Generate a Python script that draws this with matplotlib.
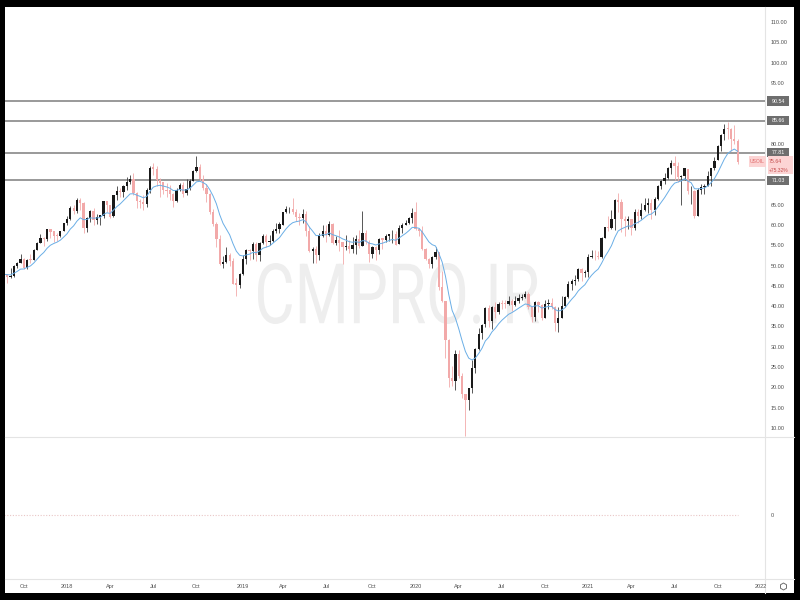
import numpy as np
import pandas as pd
import matplotlib
matplotlib.use("Agg")
import matplotlib.pyplot as plt
import matplotlib.dates as mdates
from matplotlib.textpath import TextPath
from matplotlib.patches import PathPatch, Rectangle
from matplotlib.font_manager import FontProperties
from matplotlib.transforms import Affine2D, blended_transform_factory
from matplotlib.ticker import FormatStrFormatter

plt.rcParams["font.family"] = ["Liberation Sans", "DejaVu Sans"]

# weekly USOIL candles, first week starts 2017-08-21
first_week = "2017-08-21"

open_ = [
    # 2017
    47.5, 47.9, 47.3, 47.5, 49.9, 50.7, 51.7, 49.3, 51.5, 51.5, 53.9, 55.6, 56.7, 56.6, 58.9, 58.4, 57.4, 57.3, 58.5,
    # 2018
    60.4, 61.4, 64.3, 63.4, 66.1, 65.4, 59.2, 61.7, 63.5, 61.3, 62.0, 62.3, 65.9, 64.9, 62.1, 67.4, 68.4, 68.1,
    69.7, 70.7, 71.3, 67.9, 65.8, 65.7, 65.1, 68.6, 74.2, 73.8, 71.0, 70.5, 68.7, 68.5, 67.6, 65.9, 68.7, 69.8,
    67.8, 69.0, 70.8, 73.3, 74.3, 71.3, 69.1, 67.6, 63.1, 60.2, 56.5, 50.4, 50.9, 52.6, 51.2, 45.6, 45.3,
    # 2019
    48.0, 51.6, 53.8, 53.7, 55.3, 52.7, 55.6, 57.3, 55.8, 56.1, 58.5, 59.0, 60.1, 63.1, 63.9, 64.0, 63.3, 61.9,
    61.7, 62.8, 58.6, 53.5, 54.0, 52.5, 57.4, 58.5, 57.5, 60.2, 55.6, 56.2, 55.7, 54.5, 54.9, 54.2, 55.1, 56.5,
    54.9, 58.1, 55.9, 52.8, 54.7, 53.8, 56.7, 56.2, 57.2, 57.7, 57.8, 55.2, 59.2, 60.1, 60.4, 61.7,
    # 2020
    63.1, 59.0, 58.5, 54.2, 51.6, 50.3, 52.1, 53.4, 44.8, 41.3, 31.7, 22.4, 21.5, 28.3, 22.8, 18.3, 16.9, 19.8,
    24.7, 29.4, 33.3, 35.5, 39.6, 36.3, 39.8, 38.5, 40.7, 40.6, 40.6, 41.3, 40.3, 41.2, 42.0, 42.3, 43.0, 39.8,
    37.3, 41.1, 40.3, 37.1, 40.6, 40.9, 39.9, 35.8, 37.1, 40.1, 42.2, 45.5, 46.3, 46.6, 49.1, 48.2,
    # 2021
    48.5, 52.2, 52.4, 52.3, 52.2, 56.9, 59.5, 59.2, 61.5, 66.1, 65.6, 61.4, 61.0, 61.5, 59.3, 63.1, 62.1, 63.6,
    64.9, 65.4, 63.6, 66.3, 69.6, 70.9, 71.6, 74.1, 75.2, 74.6, 71.8, 72.1, 73.9, 68.3, 68.4, 62.3, 68.7, 69.3,
    69.7, 72.0, 74.0, 75.9, 79.4, 82.3, 83.8, 83.6, 81.3, 80.8,
]

high = [
    # 2017
    48.6, 48.0, 49.4, 50.2, 51.0, 52.9, 51.8, 51.6, 52.8, 54.2, 55.7, 57.9, 57.0, 59.0, 59.1, 58.5, 58.0, 58.5, 60.5,
    # 2018
    62.2, 64.8, 64.9, 66.7, 66.6, 65.6, 62.0, 63.7, 64.2, 62.7, 62.5, 66.0, 66.0, 64.9, 67.5, 69.6, 69.0, 69.8,
    71.9, 72.3, 72.9, 68.1, 66.4, 67.3, 69.2, 74.5, 75.3, 74.6, 71.5, 70.5, 70.4, 69.9, 67.9, 69.0, 70.4, 70.5,
    71.4, 71.3, 73.5, 76.9, 75.0, 72.4, 70.0, 68.0, 63.9, 60.7, 57.5, 52.3, 54.6, 53.1, 51.9, 47.0, 48.3,
    # 2019
    52.7, 54.0, 54.0, 55.8, 55.8, 55.8, 57.8, 57.9, 57.5, 58.9, 60.4, 60.7, 63.3, 64.8, 64.5, 66.6, 64.0, 63.0,
    64.0, 63.5, 59.7, 54.6, 54.8, 58.0, 60.0, 60.0, 60.9, 60.5, 57.4, 58.8, 55.9, 57.5, 56.4, 57.0, 57.6, 58.8,
    63.4, 58.8, 56.2, 54.9, 54.9, 56.9, 56.9, 57.9, 57.9, 58.8, 58.4, 59.9, 60.5, 61.2, 61.9, 64.1,
    # 2020
    65.7, 59.2, 59.7, 54.4, 51.9, 52.3, 54.5, 53.4, 48.7, 41.3, 32.0, 25.2, 29.1, 29.2, 23.6, 18.4, 19.9, 26.7,
    29.7, 34.7, 35.5, 39.7, 40.4, 40.0, 41.0, 41.1, 41.5, 41.5, 42.5, 41.8, 42.5, 43.0, 43.0, 43.8, 43.5, 39.9,
    41.4, 41.4, 40.6, 41.5, 41.8, 41.9, 40.0, 39.8, 42.5, 42.5, 46.3, 46.7, 47.7, 49.3, 49.5, 48.9,
    # 2021
    52.8, 53.9, 53.9, 53.7, 57.0, 59.5, 62.3, 63.8, 66.4, 67.9, 66.4, 62.2, 62.3, 61.6, 64.0, 63.9, 65.5, 66.6,
    66.6, 66.5, 66.8, 69.8, 71.0, 72.9, 74.2, 76.0, 77.0, 75.5, 72.3, 74.0, 73.9, 69.7, 68.5, 69.0, 70.0, 70.0,
    73.2, 74.0, 76.7, 79.8, 82.4, 84.8, 85.4, 84.0, 84.6, 81.1,
]

low = [
    # 2017
    46.9, 45.6, 47.0, 47.1, 49.3, 50.6, 49.1, 49.1, 50.7, 51.3, 53.8, 55.5, 54.8, 56.0, 56.8, 55.8, 56.1, 57.0, 58.4,
    # 2018
    60.1, 61.2, 62.8, 63.0, 63.7, 58.1, 58.3, 60.7, 60.1, 60.2, 60.1, 61.7, 63.3, 61.8, 62.0, 66.2, 66.9, 66.9,
    68.7, 70.0, 67.5, 64.2, 64.2, 63.6, 64.5, 67.8, 72.2, 69.7, 67.0, 67.6, 66.9, 66.1, 64.4, 65.6, 68.3, 67.0,
    67.4, 68.5, 70.8, 73.0, 70.8, 68.5, 65.7, 62.8, 59.8, 54.7, 50.2, 49.4, 50.6, 49.9, 45.5, 42.4, 44.4,
    # 2019
    47.8, 50.4, 51.3, 51.7, 51.2, 51.2, 55.4, 54.5, 55.1, 55.9, 58.1, 58.0, 60.1, 62.9, 63.0, 62.6, 60.9, 60.0,
    60.5, 57.3, 53.3, 50.6, 50.7, 51.4, 57.0, 55.9, 57.4, 55.2, 55.1, 53.6, 50.5, 53.9, 53.2, 53.0, 52.8, 54.4,
    54.8, 55.3, 50.9, 51.9, 51.3, 52.9, 54.0, 55.9, 56.0, 55.5, 55.0, 55.2, 58.0, 59.9, 60.3, 60.6,
    # 2020
    58.7, 57.4, 53.9, 51.3, 49.3, 49.4, 51.7, 44.1, 41.0, 27.3, 20.1, 20.3, 19.3, 22.4, 17.3, 8.0, 14.5, 18.7,
    23.6, 29.1, 32.0, 34.8, 34.8, 34.4, 37.1, 38.0, 39.3, 39.5, 40.3, 38.7, 40.0, 40.8, 41.5, 42.0, 39.2, 36.1,
    36.3, 38.6, 36.6, 37.0, 39.2, 39.3, 34.0, 33.6, 37.0, 39.9, 42.0, 43.9, 45.1, 46.1, 46.2, 47.1,
    # 2021
    47.2, 51.8, 51.5, 51.7, 51.8, 56.7, 58.4, 59.0, 58.8, 63.3, 58.3, 57.3, 58.9, 57.6, 58.8, 60.6, 61.6, 63.5,
    62.9, 61.6, 62.5, 66.1, 68.9, 70.0, 71.3, 72.5, 71.0, 70.7, 65.0, 71.1, 67.7, 65.2, 61.7, 62.1, 67.7, 67.6,
    69.5, 69.6, 73.5, 75.9, 78.3, 81.0, 81.2, 78.3, 80.0, 75.0,
]

close = [
    # 2017
    47.87, 47.29, 47.48, 49.89, 50.66, 51.67, 49.29, 51.45, 51.47, 53.90, 55.64, 56.74, 56.55, 58.95, 58.36,
    57.36, 57.30, 58.47, 60.42,
    # 2018
    61.44, 64.30, 63.37, 66.14, 65.45, 59.20, 61.68, 63.55, 61.25, 62.04, 62.34, 65.88, 64.94, 62.06, 67.39,
    68.38, 68.10, 69.72, 70.70, 71.28, 67.88, 65.81, 65.74, 65.06, 68.58, 74.15, 73.80, 71.01, 70.46, 68.69,
    68.49, 67.63, 65.91, 68.72, 69.80, 67.75, 68.99, 70.78, 73.25, 74.34, 71.34, 69.12, 67.59, 63.14, 60.19,
    56.46, 50.42, 50.93, 52.61, 51.20, 45.59, 45.33, 47.96,
    # 2019
    51.59, 53.80, 53.69, 55.26, 52.72, 55.59, 57.26, 55.80, 56.07, 58.52, 59.04, 60.14, 63.08, 63.89, 64.00,
    63.30, 61.94, 61.66, 62.76, 58.63, 53.50, 53.99, 52.51, 57.43, 58.47, 57.51, 60.21, 55.63, 56.20, 55.66,
    54.50, 54.87, 54.17, 55.10, 56.52, 54.85, 58.09, 55.91, 52.81, 54.70, 53.78, 56.66, 56.20, 57.24, 57.72,
    57.77, 55.17, 59.20, 60.07, 60.44, 61.72, 63.05,
    # 2020
    59.04, 58.54, 54.19, 51.56, 50.32, 52.05, 53.38, 44.76, 41.28, 31.73, 22.43, 21.51, 28.34, 22.76, 18.27,
    16.94, 19.78, 24.74, 29.43, 33.25, 35.49, 39.55, 36.26, 39.75, 38.49, 40.65, 40.55, 40.59, 41.29, 40.27,
    41.22, 42.01, 42.34, 42.97, 39.77, 37.33, 41.11, 40.25, 37.05, 40.60, 40.88, 39.85, 35.79, 37.14, 40.13,
    42.15, 45.53, 46.26, 46.57, 49.10, 48.23, 48.52,
    # 2021
    52.24, 52.36, 52.27, 52.20, 56.85, 59.47, 59.24, 61.50, 66.09, 65.61, 61.42, 60.97, 61.45, 59.32, 63.13,
    62.14, 63.58, 64.90, 65.37, 63.58, 66.32, 69.62, 70.91, 71.64, 74.05, 75.16, 74.56, 71.81, 72.07, 73.95,
    68.28, 68.44, 62.32, 68.74, 69.29, 69.72, 71.97, 73.98, 75.88, 79.35, 82.28, 83.76, 83.57, 81.27, 80.79,
    75.64,
]

# horizontal levels drawn on the chart
levels = [90.54, 85.66, 77.81, 71.03]
symbol = "USOIL"
change_text = "+75.32%"
price_ticks = [10, 15, 20, 25, 30, 35, 40, 45, 50, 55, 60, 65, 80, 95, 100, 105, 110]

o = np.array(open_)
h = np.array(high)
l = np.array(low)
c = np.array(close)
weeks = pd.date_range(first_week, periods=len(c), freq="W-MON")
xs = mdates.date2num(weeks)
ema = pd.Series(c).ewm(span=10, adjust=False).mean()

W, H = 800, 600
fig = plt.figure(figsize=(8, 6), dpi=100, facecolor="black")


def box(x0, y0, x1, y1):
    return [x0 / W, 1 - y1 / H, (x1 - x0) / W, (y1 - y0) / H]


# background panel in pixel coordinates
bg = fig.add_axes([0, 0, 1, 1])
bg.set_xlim(0, W)
bg.set_ylim(H, 0)
bg.axis("off")
bg.add_patch(Rectangle((5, 7), 789, 586, fc="white", ec="none"))
sep = "#e4e4e4"
bg.plot([5, 794], [437, 437], color=sep, lw=0.8)
bg.plot([5, 794], [579, 579], color=sep, lw=0.8)
bg.plot([765, 765], [7, 593], color=sep, lw=0.8)
bg.plot([783], [586], marker="h", ms=5, mfc="none", mec="#6f6f6f", mew=0.7)

# watermark
tp = TextPath((0, 0), "CMPRO.IR", size=100, prop=FontProperties(family="Roboto"))
ext = tp.get_extents()
tr = (Affine2D().translate(-ext.x0, -ext.y0)
      .scale(281 / ext.width, -61 / ext.height)
      .translate(258, 324) + bg.transData)
bg.add_patch(PathPatch(tp, fc="#eeeeee", ec="none", transform=tr))

ax = fig.add_axes(box(5, 7, 765, 437))
ax2 = fig.add_axes(box(5, 437, 765, 579), sharex=ax)
for a in (ax, ax2):
    a.set_facecolor("none")
    for s in a.spines.values():
        s.set_visible(False)

# candles
up = c >= o
up_col, dn_col = "#1a1a1a", "#f2a9a9"
body_cols = np.where(up, up_col, dn_col)
wick_cols = np.where(up, "#3c3c3c", dn_col)
ax.vlines(xs, l, h, colors=wick_cols, lw=0.6, zorder=3)
ax.bar(xs, np.maximum(np.abs(c - o), 0.15), bottom=np.minimum(o, c), width=4.8,
       color=body_cols, lw=0, zorder=4)
ax.plot(xs, ema, color="#6aaee6", lw=0.7, zorder=5)

# horizontal levels with price labels
bt = blended_transform_factory(ax.transAxes, ax.transData)
for lvl in levels:
    ax.axhline(lvl, color="#7d7d7d", lw=1.1, zorder=2)
    ax.add_patch(Rectangle((1.003, lvl - 1.15), 0.029, 2.3, transform=bt, clip_on=False,
                           fc="#6e6e6e", ec="none", zorder=6))
    ax.text(1.0175, lvl, f"{lvl:.2f}", transform=bt, ha="center", va="center",
            fontsize=3.8, color="white", zorder=7, clip_on=False)

# last price labels
last = c[-1]
ax.add_patch(Rectangle((0.979, last - 1.25), 0.0225, 2.5, transform=bt, clip_on=False,
                       fc="#fcd4d4", ec="none", zorder=6))
ax.text(0.990, last, symbol, transform=bt, ha="center", va="center",
        fontsize=3.6, color="#e06a6a", zorder=7, clip_on=False)
ax.add_patch(Rectangle((1.004, last - 3.1), 0.033, 4.45, transform=bt, clip_on=False,
                       fc="#fcd4d4", ec="none", zorder=6))
ax.text(1.0055, last, f"{last:.2f}", transform=bt, ha="left", va="center",
        fontsize=3.8, color="#c44e4e", zorder=7, clip_on=False)
ax.text(1.0055, last - 2.2, change_text, transform=bt, ha="left", va="center",
        fontsize=3.6, color="#c44e4e", zorder=7, clip_on=False)

# axes ranges (pixel calibration of the reference)
px_per_day = 3.32 / 7
x_ref = mdates.date2num(pd.Timestamp("2018-01-01"))
ax.set_xlim(x_ref - 62 / px_per_day, x_ref + 698 / px_per_day)
ax.set_ylim(10 - 9 / 4.06, 10 + 421 / 4.06)

ax.yaxis.tick_right()
ax.set_yticks(price_ticks)
ax.yaxis.set_major_formatter(FormatStrFormatter("%.2f"))
ax.tick_params(axis="y", length=0, pad=4, labelsize=4, labelcolor="#4f4f4f")
ax.tick_params(axis="x", length=0, labelbottom=False)

# lower pane
ax2.set_ylim(-0.4507, 0.5493)
ax2.hlines(0, xs[0], xs[-1], colors="#e9c6c6", lw=0.8, linestyles=(0, (1, 1.5)))
ax2.yaxis.tick_right()
ax2.set_yticks([0])
ax2.set_yticklabels(["0"])
ax2.tick_params(axis="y", length=0, pad=4, labelsize=4, labelcolor="#4f4f4f")

# time axis: first weekly bar of each quarter
qs = pd.date_range("2017-10-01", "2022-01-01", freq="QS-JAN")
tick_days = [d + pd.Timedelta(days=(7 - d.weekday()) % 7) for d in qs]
ax2.set_xticks(mdates.date2num(tick_days))
ax2.set_xticklabels([str(d.year) if d.month == 1 else d.strftime("%b") for d in qs])
ax2.tick_params(axis="x", length=0, pad=3.5, labelsize=4, labelcolor="#4f4f4f")

fig.savefig("out.png", dpi=100, facecolor="black")
